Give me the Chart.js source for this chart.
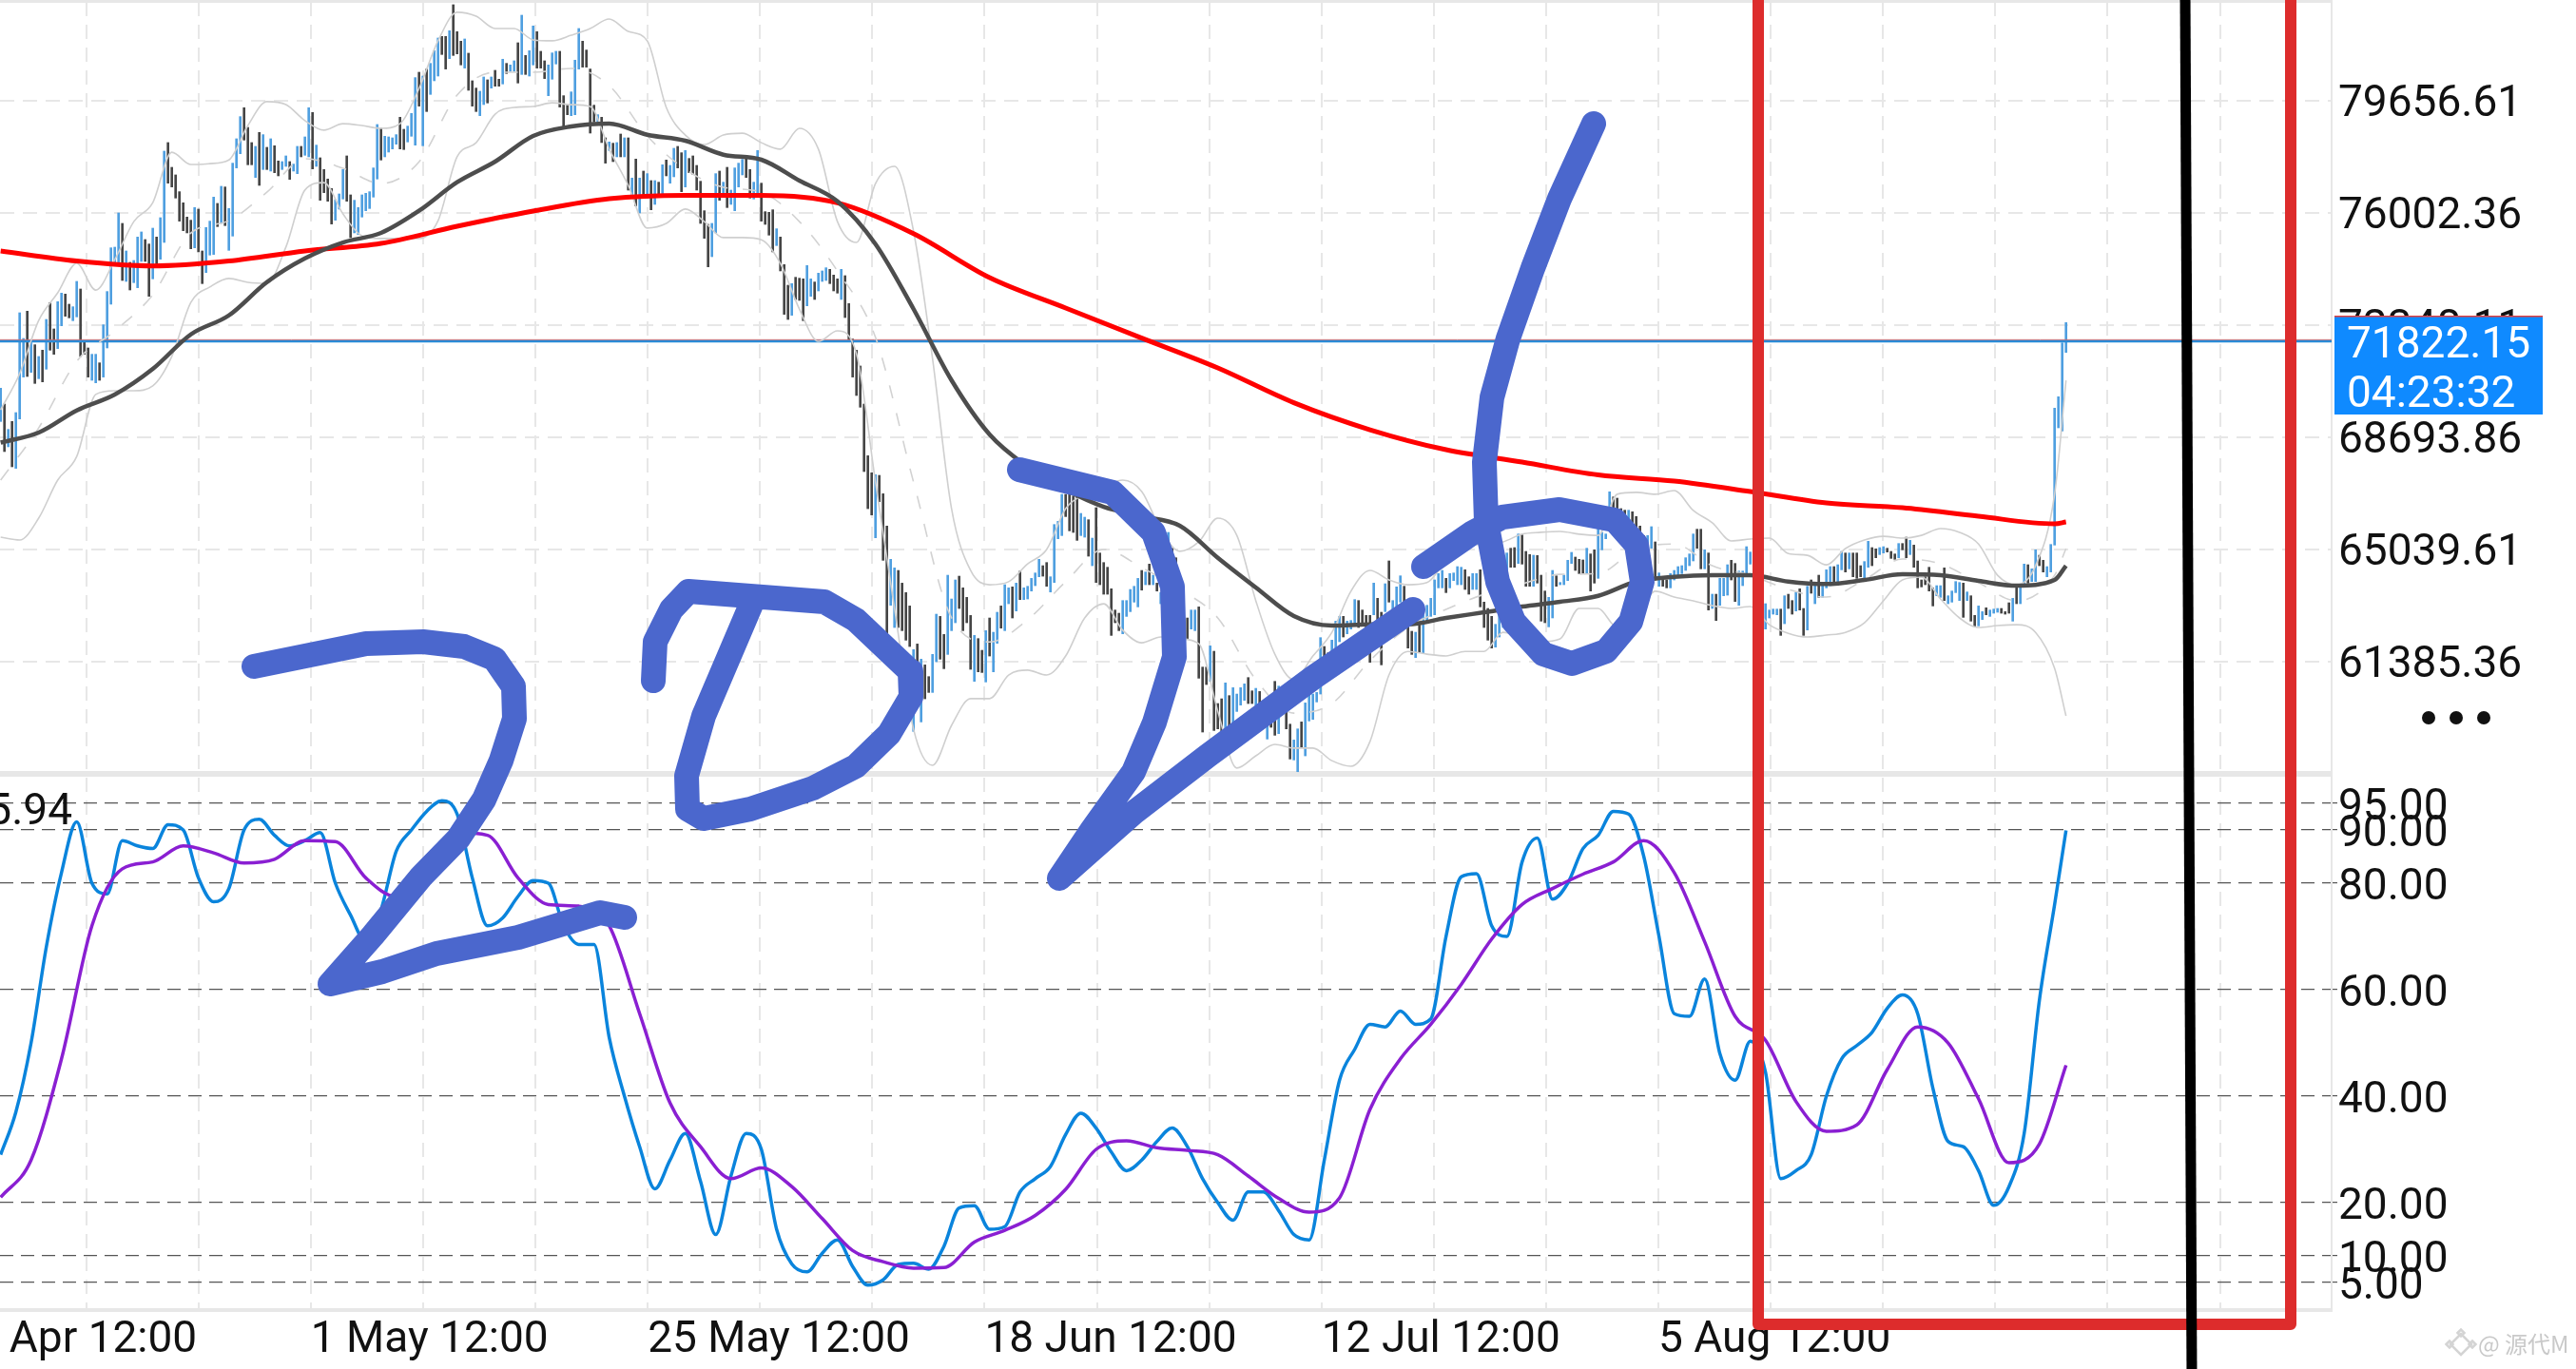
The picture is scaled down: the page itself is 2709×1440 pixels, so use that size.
<!DOCTYPE html>
<html>
<head>
<meta charset="utf-8">
<style>
	html, body { margin: 0; background: #fff; overflow: hidden; }
	canvas { position: absolute; left: 0; top: 0; }
</style>
<script src="https://cdn.jsdelivr.net/npm/chart.js@4"></script>
</head>
<body>
<canvas id="myChart" width="2709" height="1440"></canvas>
<canvas id="inkLayer" width="2709" height="1440"></canvas>
<script>
var priceTicks = [79656.61, 76002.36, 72348.11, 68693.86, 65039.61, 61385.36]
var oscTicks = [95, 90, 80, 60, 40, 20, 10, 5]
var dateLabels = ['7 Apr 12:00', '1 May 12:00', '25 May 12:00', '18 Jun 12:00', '12 Jul 12:00', '5 Aug 12:00']
var lastPrice = 71822.15
var countdown = '04:23:32'
var oscCorner = '95.94'
var watermark = '@ 源代M'

// one entry per bar
var barHigh = [
	70294,69778,68952,69210,69499,72751,71915,72803,71843,71709,71327,71533,72534,73082,72225,73113,73391,73360,73030,72947,
	73773,73525,71812,71605,71399,71399,71120,72359,73443,74867,74888,76003,75662,74764,74393,74454,75218,75384,75136,74991,
	75507,75218,75848,78016,78295,77489,77242,76695,76333,75869,75766,76178,76127,74764,75528,75735,76519,76313,76870,76849,
	76147,77624,78419,79141,79430,78790,78295,78171,78625,78553,78140,78419,78191,77696,77675,77861,77675,77593,78171,78171,
	78480,79430,79275,78212,77799,77417,77108,76798,76437,76622,77417,77861,76591,76416,76178,76591,76643,76695,77469,78883,
	78759,78501,78480,78449,78553,79120,78728,78831,79244,80411,80586,80462,80690,80875,81288,81701,81753,81753,81939,82785,
	81908,81598,81670,81206,80308,80070,79967,80432,80339,80432,80648,80359,81010,80875,80824,80958,81546,82444,81133,81288,
	82094,81908,81268,80958,80824,81216,81268,81268,79822,79513,79946,80979,82011,81598,81309,80690,79513,79203,79120,78449,
	78315,78274,78295,78573,78449,78449,77139,77758,77139,77366,77283,77056,77056,77004,77572,77727,77551,78109,78171,77964,
	78037,77778,77861,77551,77035,76075,75631,75662,77283,77366,77004,77489,76746,77469,77624,77747,77799,77417,77004,78037,
	76973,76044,76024,76106,75487,75218,74320,73649,73701,73907,73876,73856,74289,73856,73753,74042,74114,74217,74165,73980,
	73856,74165,73959,73051,71895,71533,71017,69778,68094,67537,67475,67454,66855,65803,64719,64440,64357,63944,63635,63201,
	61777,61962,61467,61281,60899,61622,62933,62860,62272,64202,63428,64048,64171,63790,63480,62891,62241,62138,61756,62396,
	62809,62344,62995,63201,63893,63790,63821,63944,64337,63790,63841,64099,64275,64719,64512,64615,64151,65854,65957,66835,
	66835,66835,66783,66732,66215,66092,66009,65410,66401,64925,64615,64461,63759,63067,62964,63377,63377,63738,63841,64099,
	64357,64306,64564,64202,63944,63635,63944,65596,65080,64770,63841,63325,62809,63067,63067,63170,61209,61209,61900,61725,
	60022,60176,60693,60280,60538,60331,60538,60662,60868,60435,60517,60414,59815,59609,59815,60744,60589,60125,59763,59350,
	58834,59196,59423,60042,60331,60331,60383,62169,61880,61673,62087,62706,62861,62861,62706,62727,63408,63377,63068,62892,
	62892,63945,63450,62995,63924,64668,63377,63821,64182,63842,62603,62376,62345,62706,62913,63222,63450,64048,64255,64358,
	64100,64255,64275,64482,64461,64379,64151,64255,64255,64379,63326,63119,62861,62603,62913,62861,64926,65081,65101,65545,
	65514,64977,64874,64853,64843,64203,63687,63481,64358,64182,63966,64203,64688,64946,64792,64719,64699,65081,64895,65029,
	65752,65597,65545,66918,66753,66712,66371,66320,66319,66268,66113,65803,65493,65493,65783,65287,64275,64048,64048,64255,
	64358,64482,64513,64771,64895,65545,65700,65700,65029,64926,63584,63583,64100,64100,64543,64688,64585,64337,64337,65132,
	64956,64564,63945,63532,63274,63067,63098,63098,63098,63532,63583,63377,63635,63759,63119,63841,64048,63893,64203,63893,
	64378,64482,64482,64543,64977,64925,64925,64925,64925,64512,64647,65307,65101,65060,65101,65132,65080,64977,64894,65235,
	65235,65441,65338,65183,64667,64048,64151,64461,63790,63862,63862,64440,63532,63687,63996,63965,63945,63656,63532,62892,
	63201,63015,63140,63067,63098,63119,63119,63015,63304,63449,63790,63790,64564,64543,64409,65029,64853,64688,64482,65204,
	69643,70015,71770,72430
]
var barLow = [
	69210,68230,68385,67734,67683,69293,70656,70676,70810,70449,70604,70501,70914,71533,71399,71585,72328,72638,72586,72493,
	72617,71327,71399,70656,70552,70470,70552,70656,71605,73030,74320,74351,73804,73773,73494,73732,73567,74424,74424,73288,
	73856,74269,74496,75043,76973,76849,76488,75735,75425,75353,74836,74867,74733,73701,74062,74630,74651,75559,75662,75590,
	74785,75249,77469,77933,78377,77572,77572,77159,76901,77417,77417,77366,77314,77211,77417,77520,77097,77366,77283,77830,
	77882,77830,77438,77520,76416,76664,76385,75642,75766,76127,76457,76385,75198,75353,75301,75869,76075,76147,76519,77108,
	77727,77830,77985,78088,78243,78088,78068,78315,78501,78212,79482,78191,79306,79864,80308,80462,81164,80690,81030,81133,
	81185,80824,80721,79998,79482,79306,79172,79533,79585,80070,80132,80132,80204,80545,80617,80617,80235,80514,80514,80462,
	80824,80721,80721,80380,79822,80359,80855,79451,78759,79203,79172,79203,80690,80752,80752,78604,78966,78966,78295,77624,
	78037,77675,77830,77830,77830,76746,76488,76230,76003,76488,76488,76106,76282,76540,76622,77211,76973,77180,77469,76695,
	76849,77314,77262,76746,75662,75177,74248,74578,75353,76416,76540,76178,76282,76075,76849,77242,77159,76488,76457,76643,
	75735,75631,75280,74733,74940,74114,72700,72534,72669,73185,73154,72493,72978,73288,73185,73463,73773,73804,73701,73463,
	73391,73185,72596,71843,70656,70057,69675,67579,66370,66164,65421,66597,64688,61364,63222,62499,62499,62396,62086,61880,
	59113,60641,59423,60176,60383,60383,61384,61467,61157,61622,62396,62654,63119,62396,62654,61137,60744,61054,61033,60724,
	61570,61054,61983,62478,62396,63273,62809,63036,63408,63408,63428,63686,63862,64151,64171,63841,63655,63965,65390,65493,
	66112,65648,65596,65338,65493,65441,64822,64512,63965,63893,63583,63583,62241,62654,62396,62293,62860,63015,63325,63170,
	63717,63893,63893,63893,63686,63273,63325,64977,64667,64048,63325,62706,62138,62448,62396,60847,59093,60641,60744,59144,
	59196,58989,58318,58422,59402,59763,59970,60125,60022,60022,59970,59867,59248,58865,59248,58989,59041,59660,59196,58215,
	58184,57802,58597,58318,59454,59505,60073,60331,61157,61054,61468,61777,62035,62190,62293,62448,62551,62500,62551,62500,
	61364,62913,62500,61282,63016,63326,62706,63119,63326,63119,61829,61622,61519,61674,61674,62655,62861,62913,63790,63790,
	63635,63790,64028,63893,63893,63739,63584,63739,63739,63171,62500,62087,61829,61860,62190,62500,64255,64461,64461,64585,
	64564,63842,63842,63842,63945,62706,62655,62520,62810,63842,63893,63893,64028,64585,64358,64255,64255,64255,63687,63945,
	64100,65029,65390,66423,66164,66010,66010,65958,65906,65803,65493,65184,64771,64668,65081,64048,63842,63842,63790,63790,
	64048,64203,64255,64358,64513,64668,65081,64410,64410,63068,63119,62727,63222,63532,63552,64048,63346,63222,63862,64275,
	64564,63738,63222,62706,62448,62809,62933,62913,62242,62623,63119,62933,63036,63067,62242,62417,63615,63274,63480,63480,
	63790,63862,63893,63965,64378,64306,64409,64151,64100,64151,64100,64461,64512,64771,64874,64925,64956,64750,64719,64771,
	65029,64771,64874,64461,63790,63821,63893,63687,63201,63532,63480,63377,63274,63325,63635,63377,62830,63377,62706,62551,
	62551,62758,62913,62861,62964,62995,62964,62933,62964,62706,63274,63274,63893,63945,63996,63996,64512,64306,64151,64306,
	65184,69003,68900,71460
]
var barUp = [
	1,0,1,0,1,1,1,0,1,0, 1,0,1,0,0,1,1,0,0,1, 1,0,0,0,1,1,0,1,1,1, 1,1,0,1,0,1,1,1,0,0,
	1,0,1,1,0,0,0,0,0,0, 0,1,0,0,1,1,1,0,1,0, 1,1,1,1,0,0,0,1,0,1, 0,1,0,0,1,1,0,1,1,0,
	1,1,0,1,0,0,0,0,1,1, 1,0,0,1,1,1,1,1,1,1, 0,1,1,1,1,0,0,1,1,1, 0,1,0,1,1,1,0,0,1,0,
	0,0,1,0,0,0,1,1,0,1, 0,0,1,0,1,1,0,1,0,1, 1,0,0,0,1,1,1,0,0,0, 1,1,1,0,0,0,0,1,0,0,
	1,0,1,0,1,0,1,0,1,0, 1,0,1,0,1,0,1,1,0,0, 1,0,0,0,0,0,0,1,1,0, 1,0,1,1,1,1,0,0,1,1,
	0,0,0,0,1,0,0,0,1,0, 0,0,1,1,0,1,1,1,0,0, 0,1,0,0,0,0,0,0,0,0, 1,0,0,0,1,1,0,0,0,0,
	1,0,1,0,0,1,1,0,0,1, 1,1,0,0,0,0,1,0,0,1, 0,1,1,0,1,1,0,1,0,1, 1,1,1,1,0,0,1,1,1,1,
	0,0,0,0,1,1,0,1,0,0, 0,0,0,0,0,1,1,1,1,1, 0,1,0,1,0,1,0,1,0,0, 0,0,0,1,1,0,0,0,1,0,
	0,0,1,0,1,1,1,1,0,0, 1,0,0,1,0,0,1,0,0,0, 1,1,0,1,1,1,1,1,0,0, 1,1,1,0,1,1,1,0,0,0,
	0,1,0,0,1,0,1,1,1,0, 0,0,1,0,1,1,1,1,1,1, 0,1,1,1,1,0,0,1,1,0, 0,0,0,1,1,1,1,0,0,1,
	0,0,0,1,0,0,0,1,1,0, 1,1,1,1,0,0,0,1,0,0, 1,1,1,1,0,0,0,0,1,0, 0,0,0,1,1,0,1,0,0,1,
	1,1,1,1,1,1,0,0,1,0, 1,0,1,1,1,0,0,1,1,1, 1,0,0,0,1,1,1,1,0,1, 0,0,1,0,0,1,0,1,0,1,
	1,1,0,1,1,0,1,0,0,0, 1,1,0,0,1,1,0,0,0,1, 0,0,1,0,0,0,0,0,0,1, 1,0,1,1,1,1,0,1,0,0,
	1,1,0,1,1,1,0,0,0,1, 0,1,1,0,1,1,0,0,1,1, 1,1,1,1
]

// one value every 20 bars
var ma200 = [74763,74435,74274,74435,74763,75011,75568,76064,76466,76575,76575,76330,75327,73896,72905,71926,70954,69820,68941,68290,67888,67469,67268,66927,66556,66401,66122,65875,65937]
// every 10 bars
var ma50 = [68523,68848,69570,70087,70923,72047,72666,73750,74525,75042,75351,76073,77002,77674,78510,78820,78913,78551,78355,77900,77736,77055,76383,74989,72874,70551,68786,67733,66990,66432,66122,65813,64769,63800,62871,62561,62601,62601,62809,62994,63180,63335,63530,63995,64150,64202,64202,63995,63914,64047,64233,64202,64016,63861,64047,64512]
var bandMid = [67300,69000,71170,72160,73340,75350,75750,76680,77770,77460,76960,77670,79840,80585,80585,80710,80150,78510,77430,76840,76680,75720,74110,71950,67240,62810,62030,62750,63990,65040,64450,63740,62810,60800,59710,60020,61420,62500,63090,63580,63920,64230,64260,65040,65220,64510,64200,63740,63490,64050,64730,64570,63960,63370,64200,65070]
// every 5 bars
var bandUpper = [69590,70770,72500,73400,74360,73490,74480,75720,76340,77980,77580,77610,77730,78850,79630,79530,79010,78700,78910,78850,78760,78910,80060,81610,82540,82410,82010,82010,81640,81610,81790,82010,82320,81920,81610,79440,78540,78230,78540,78600,78290,78080,78760,78080,75720,75040,76960,77520,75410,71260,66370,64360,63890,63990,64570,65040,66370,66840,67080,67300,66930,65690,64980,65290,66060,65500,63370,61630,60800,61570,62340,63680,64360,64050,63890,63960,64670,65130,65220,65290,65540,65600,65630,65540,65500,66840,66900,66840,66960,66310,65910,65320,65380,65410,64910,64850,64540,65070,65350,65470,65410,65500,65720,65600,65220,64200,63890,64510,66840,70550]
var bandLower = [65440,65350,66060,67300,68070,70090,70210,70210,70370,71330,73090,73590,73870,73740,73710,74890,76750,76990,75970,75260,75170,75170,75170,75750,77830,78290,79220,79440,79470,79590,79530,79470,78080,76900,75510,75660,76130,75720,75200,75200,75130,74360,72870,71820,72160,71420,67240,63120,59190,58010,59310,60180,60180,60950,61110,60950,61570,62810,63270,62410,62000,62190,62130,61970,59770,57920,58320,58690,58570,58570,58160,57980,58780,60950,61720,61630,61570,61720,61720,62340,62190,62040,62130,63120,63120,62500,62810,63680,63490,63370,63210,63120,63180,62590,62310,62190,62250,62340,62650,63370,64050,64140,63430,62810,62500,62560,62590,62340,61170,59620]
// every 4 bars
var stochK = [
	29,37,50,68,82,91.5,80,78,88,87,86.5,91,90,81,76.5,79,90,92,89,87,88,89.5,80,74,69,75,86,90,93.5,95.5,93,81,72,73.5,77.5,80.5,80,72,68.5,68.5,51,40,30.5,22.6,28,33,24,14,25,33,30,15,8.5,7,10.5,13,8,
	4.5,5.5,8.4,8.6,7.5,11.8,19,19.4,15,15.5,22,24.5,26.8,32.8,36.8,34,29.5,26,28,31.5,34,30.5,24.5,20,16.7,22,22,18.5,14,13,28,43,48.8,53.5,53,56,53.5,54.5,70,81.2,81.8,72,70,84,88.5,77,80,86.5,89,93.5,93,85,70,55.5,55,62,
	48,43,50.3,44.5,24.5,26,29,40,47,49.5,52,56.5,59,55.5,41.5,31.5,30.5,26,19.5,23,33,58,76,89.9
]
// every 8 bars
var stochD = [21,28,47,72,82.7,84,87,85.7,83.8,84.5,88,87.8,81,77.5,81,89.5,89,81,76,75.7,72,55.5,38.7,30.5,24.5,26.5,23,17,11,8.9,7.7,7.8,12.6,14.8,17.6,22.5,30,31.6,30.3,29.8,29,25,20.8,18.2,20.9,37.5,47,53.5,61,69.5,76,79,81.7,84,88,82,69,55,50.5,39,33.4,34.6,45,53,50,39.5,27.5,31,45.8]

// hand drawn marks on top of the screenshot, in image pixels
var inkTwo = [[267,701],[385,677],[445,675],[488,680],[520,693],[540,722],[541,756],[527,800],[509,841],[482,882],[443,922],[392,984],[347,1035],[402,1022],[459,1003],[545,986],[631,960],[657,965]]
var inkD = [[687,716],[689,675],[706,641],[724,622],[867,633],[900,652],[957,706],[958,733],[935,772],[900,806],[855,829],[789,851],[740,861],[723,851],[722,816],[740,753],[789,638]]
var inkY = [[1072,494],[1170,518],[1213,560],[1233,617],[1235,691],[1214,760],[1192,812],[1149,872],[1114,924],[1192,855],[1270,795],[1382,712],[1486,641]]
var inkSix = [[1676,130],[1640,209],[1612,282],[1586,356],[1569,418],[1561,486],[1563,549],[1575,612],[1592,654],[1623,688],[1653,698],[1689,685],[1715,654],[1727,612],[1721,573],[1698,547],[1640,536],[1580,544],[1549,560],[1497,596]]
var inkBox = [[1849,-20],[1849,1393],[2409,1393],[2409,-20]]
var inkBlack = [[2298,-5],[2305,1445]]

var lastBar = barHigh.length - 1
var xMin = -0.17
var xMax = 612.83
var gridFirst = -7.03
var gridStep = 29.525
var gridCount = 21
var greyBand = '#e7e7e7'
var labelFont = { family: 'Roboto', size: 46 }

function series(values, step) {
	return values.map(function(v, k) {
		return { x: Math.min(k * step, lastBar), y: v }
	})
}

function lineSet(values, step, axis, color, width, order, dash) {
	return {
		type: 'line',
		data: series(values, step),
		yAxisID: axis,
		borderColor: color,
		borderWidth: width,
		borderDash: dash || [],
		pointRadius: 0,
		cubicInterpolationMode: 'monotone',
		order: order,
	}
}

function flatLine(value, color, width, order) {
	return {
		type: 'line',
		data: [{ x: xMin, y: value }, { x: xMax, y: value }],
		yAxisID: 'yPrice',
		borderColor: color,
		borderWidth: width,
		pointRadius: 0,
		order: order,
	}
}

var bars = {
	type: 'bar',
	data: barHigh.map(function(h, i) {
		return { x: i, y: [barLow[i], h] }
	}),
	yAxisID: 'yPrice',
	backgroundColor: barUp.map(function(u) {
		return u ? '#4f9fe0' : '#454545'
	}),
	barThickness: 2,
	order: 10,
}

var framePlugin = {
	id: 'frame',
	beforeDatasetsDraw: function(chart) {
		var c = chart.ctx
		var s = chart.scales
		c.save()
		c.fillStyle = greyBand
		c.fillRect(0, 0, 2453, 3)
		c.fillRect(0, s.yPrice.bottom - 4, 2453, 6)
		c.fillRect(0, s.yOsc.bottom - 1, 2453, 4)
		c.fillRect(2451, 0, 2, s.yOsc.bottom + 2)
		c.restore()
	},
	afterDraw: function(chart) {
		var c = chart.ctx
		c.save()
		// last price box
		c.fillStyle = '#0f8aff'
		c.fillRect(2455, 333, 219, 103)
		c.fillStyle = '#e04040'
		c.fillRect(2455, 332, 219, 1.5)
		c.fillStyle = '#fff'
		c.font = '46px Roboto'
		c.textBaseline = 'middle'
		c.textAlign = 'left'
		c.fillText(lastPrice.toFixed(2), 2468, 364)
		c.fillText(countdown, 2468, 416)
		// menu dots
		c.fillStyle = '#111'
		;[2554, 2583, 2612].forEach(function(x) {
			c.beginPath()
			c.arc(x, 755, 7, 0, Math.PI * 2)
			c.fill()
		})
		// cut off value at the top left of the lower panel
		c.textAlign = 'right'
		c.fillText(oscCorner, 76, 855)
		// watermark
		c.textAlign = 'left'
		c.fillStyle = '#c9c9c9'
		c.font = '24px "Noto Sans CJK SC"'
		c.fillText(watermark, 2606, 1414)
		c.strokeStyle = '#d4d4d4'
		c.lineWidth = 2.5
		;[[2588, 1414, 11], [2576, 1414, 3.5], [2600, 1414, 3.5], [2588, 1402, 3.5]].forEach(function(d) {
			c.beginPath()
			c.moveTo(d[0] - d[2], d[1])
			c.lineTo(d[0], d[1] - d[2])
			c.lineTo(d[0] + d[2], d[1])
			c.lineTo(d[0], d[1] + d[2])
			c.closePath()
			c.stroke()
		})
		c.restore()
	},
}

new Chart(document.getElementById('myChart'), {
	type: 'bar',
	plugins: [framePlugin],
	data: {
		datasets: [
			bars,
			lineSet(bandUpper, 5, 'yPrice', '#cfcfcf', 1.6, 6),
			lineSet(bandLower, 5, 'yPrice', '#cfcfcf', 1.6, 6),
			lineSet(bandMid, 10, 'yPrice', '#d2d2d2', 1.6, 6, [14, 16]),
			lineSet(ma200, 20, 'yPrice', '#ff0000', 5, 5),
			lineSet(ma50, 10, 'yPrice', '#4d4d4d', 4.5, 4),
			flatLine(lastPrice + 50, '#e8665e', 1, 8),
			flatLine(lastPrice, '#2a8ad6', 2.5, 7),
			lineSet(stochK, 4, 'yOsc', '#0a84dc', 3.5, 3),
			lineSet(stochD, 8, 'yOsc', '#8a1fd2', 3.5, 2),
		],
	},
	options: {
		responsive: false,
		devicePixelRatio: 1,
		animation: false,
		layout: { padding: { top: 2 } },
		plugins: { legend: { display: false }, tooltip: { enabled: false } },
		scales: {
			x: {
				type: 'linear',
				min: xMin,
				max: xMax,
				offset: false,
				border: { display: false, dash: [15, 9] },
				grid: { offset: false, color: greyBand, lineWidth: 2, drawTicks: false },
				afterBuildTicks: function(s) {
					s.ticks = []
					for (var k = 0; k < gridCount; k++) s.ticks.push({ value: gridFirst + k * gridStep })
				},
				afterFit: function(s) {
					s.height = 63
					s.paddingLeft = 0
					s.paddingRight = 0
				},
				ticks: {
					autoSkip: false,
					maxRotation: 0,
					minRotation: 0,
					align: 'start',
					padding: 6,
					color: '#111',
					font: labelFont,
					callback: function(v, i) {
						return i % 3 === 0 && dateLabels[i / 3] ? dateLabels[i / 3] : ''
					},
				},
			},
			yPrice: {
				type: 'linear',
				position: 'right',
				stack: 'panels',
				stackWeight: 813,
				weight: 0,
				min: 57700,
				max: 82877.3,
				border: { display: false, dash: [15, 9] },
				grid: { color: greyBand, lineWidth: 2, drawTicks: false },
				afterBuildTicks: function(s) {
					s.ticks = priceTicks.map(function(v) { return { value: v } })
				},
				afterFit: function(s) {
					s.width = 257
					s.paddingTop = 0
					s.paddingBottom = 0
				},
				ticks: {
					autoSkip: false,
					padding: 7,
					labelOffset: 5,
					color: '#111',
					font: labelFont,
					callback: function(v) { return v.toFixed(2) },
				},
			},
			yOsc: {
				type: 'linear',
				position: 'right',
				stack: 'panels',
				stackWeight: 562,
				weight: 1,
				min: 0,
				max: 100.36,
				border: { display: false, dash: [14, 8] },
				grid: { color: '#555', lineWidth: 1.2, tickLength: 6, tickBorderDash: [14, 8] },
				afterBuildTicks: function(s) {
					s.ticks = oscTicks.map(function(v) { return { value: v } })
				},
				afterFit: function(s) {
					s.width = 257
					s.paddingTop = 0
					s.paddingBottom = 0
				},
				ticks: {
					autoSkip: false,
					padding: 1,
					labelOffset: 5,
					color: '#111',
					font: labelFont,
					callback: function(v) { return v.toFixed(2) },
				},
			},
		},
	},
})

function inkSet(points, color, width, cap) {
	return {
		data: points.map(function(p) { return { x: p[0], y: p[1] } }),
		showLine: true,
		borderColor: color,
		borderWidth: width,
		borderCapStyle: cap,
		borderJoinStyle: 'round',
		pointRadius: 0,
		clip: false,
	}
}

new Chart(document.getElementById('inkLayer'), {
	type: 'scatter',
	data: {
		datasets: [
			inkSet(inkBlack, '#000', 11, 'butt'),
			inkSet(inkBox, '#dd2c2c', 12, 'butt'),
			inkSet(inkTwo, '#4b67cd', 26, 'round'),
			inkSet(inkD, '#4b67cd', 26, 'round'),
			inkSet(inkY, '#4b67cd', 26, 'round'),
			inkSet(inkSix, '#4b67cd', 26, 'round'),
		],
	},
	options: {
		responsive: false,
		devicePixelRatio: 1,
		animation: false,
		plugins: { legend: { display: false }, tooltip: { enabled: false } },
		scales: {
			x: { type: 'linear', display: false, min: 0, max: 2709 },
			y: { type: 'linear', display: false, min: 0, max: 1440, reverse: true },
		},
	},
})
</script>
</body>
</html>
